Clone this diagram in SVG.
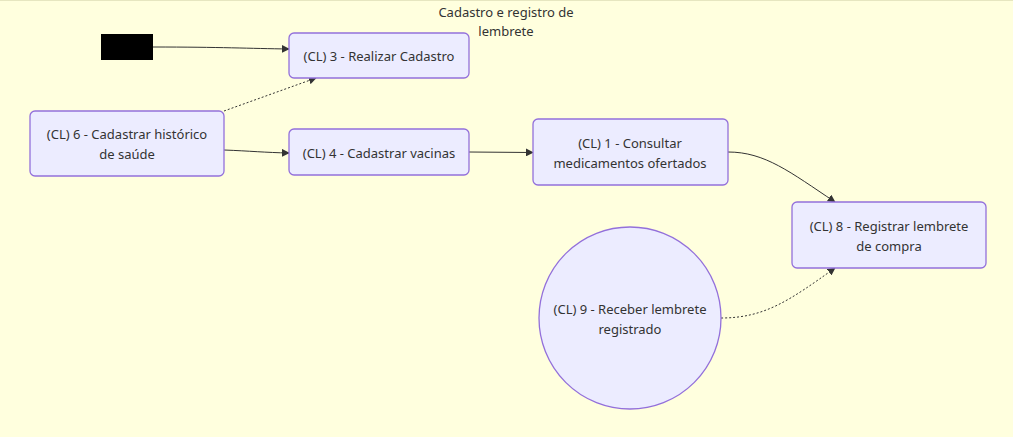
<svg xmlns="http://www.w3.org/2000/svg" width="1013" height="437" viewBox="0 0 1013 437">
<defs>
<style>
.node rect, .node circle { fill:#ECECFF; stroke:#9370DB; stroke-width:1.3; }
.lbl { font-family:"Noto Sans","DejaVu Sans",sans-serif; font-size:13px; fill:#333333; text-anchor:middle; }
.edge { fill:none; stroke:#333333; stroke-width:1; }
.dot { stroke-dasharray:2 2; }
</style>
<marker id="arr" viewBox="0 0 10 10" refX="9" refY="5" markerWidth="8" markerHeight="8" orient="auto" markerUnits="userSpaceOnUse">
<path d="M0,0 L10,5 L0,10 z" fill="#333333"/>
</marker>
</defs>
<rect x="0" y="0" width="1013" height="437" fill="#FFFFDE"/>
<line x1="0" y1="0.5" x2="1013" y2="0.5" stroke="#E6E6C0" stroke-width="1"/>
<text class="lbl" x="506" y="17">Cadastro e registro de</text>
<text class="lbl" x="506" y="36">lembrete</text>

<g id="connectors">
<path class="edge" d="M153,47 C220,47 250,48.5 289,49" marker-end="url(#arr)"/>
<path class="edge dot" d="M224,111 L316,78" marker-end="url(#arr)"/>
<path class="edge" d="M224,150 C250,151 265,152.5 289,153" marker-end="url(#arr)"/>
<path class="edge" d="M469,152 L533,152.5" marker-end="url(#arr)"/>
<path class="edge" d="M728,152 C765,152 790,172 835,202" marker-end="url(#arr)"/>
<path class="edge dot" d="M721,318 C765,318 790,300 835,268" marker-end="url(#arr)"/>
</g>

<g id="start"><rect x="101" y="34" width="52" height="26" fill="#000000"/></g>

<g id="n3" class="node">
<rect x="289" y="33" width="180" height="45" rx="5"/>
<text class="lbl" x="379" y="61">(CL) 3 - Realizar Cadastro</text>
</g>
<g id="n6" class="node">
<rect x="30" y="111" width="194" height="65" rx="5"/>
<text class="lbl" x="127" y="139">(CL) 6 - Cadastrar histórico</text>
<text class="lbl" x="127" y="159">de saúde</text>
</g>
<g id="n4" class="node">
<rect x="289" y="129" width="180" height="46" rx="5"/>
<text class="lbl" x="379" y="158">(CL) 4 - Cadastrar vacinas</text>
</g>
<g id="n1" class="node">
<rect x="533" y="119" width="195" height="66" rx="5"/>
<text class="lbl" x="630" y="148">(CL) 1 - Consultar</text>
<text class="lbl" x="630" y="168">medicamentos ofertados</text>
</g>
<g id="n8" class="node">
<rect x="792" y="202" width="194" height="66" rx="5"/>
<text class="lbl" x="889" y="231">(CL) 8 - Registrar lembrete</text>
<text class="lbl" x="889" y="251">de compra</text>
</g>
<g id="n9" class="node">
<circle cx="630" cy="318" r="91"/>
<text class="lbl" x="630" y="314">(CL) 9 - Receber lembrete</text>
<text class="lbl" x="630" y="334">registrado</text>
</g>
</svg>
